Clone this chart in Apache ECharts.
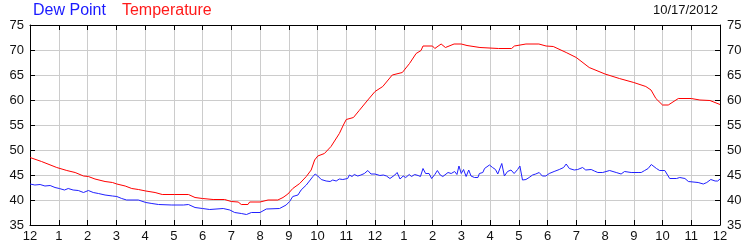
<!DOCTYPE html>
<html>
<head>
<meta charset="utf-8">
<script src="https://cdn.jsdelivr.net/npm/echarts@6/dist/echarts.min.js"></script>
<style>
html,body{margin:0;padding:0;background:#fff;}
#c{width:750px;height:250px;}
</style>
</head>
<body>
<div id="c"></div>
<script>
// Sampling times in hours after midnight, and readings
const tempHours = [0,0.4,0.93,1.28,1.57,1.86,2.03,2.26,2.61,2.87,3.02,3.31,3.54,3.77,4.03,4.35,4.6,5.02,5.51,5.74,6.0,6.37,6.77,7.0,7.24,7.35,7.58,7.64,8.0,8.28,8.62,8.8,8.97,9.14,9.38,9.61,9.78,9.9,10.01,10.24,10.47,10.76,10.9,11.0,11.25,11.45,11.75,12.0,12.27,12.6,12.95,13.2,13.43,13.6,13.67,14.0,14.08,14.3,14.45,14.75,15.0,15.2,15.65,16.3,16.75,16.85,17.25,17.7,17.95,18.2,18.65,19.0,19.45,20.0,20.5,21.0,21.42,21.6,21.77,22.0,22.2,22.55,23.0,23.3,23.65,24.0];
const tempValues = [48.5,47.7,46.5,45.9,45.5,44.8,44.7,44.2,43.7,43.5,43.2,42.8,42.3,42.1,41.8,41.5,41.1,41.1,41.1,40.5,40.3,40.1,40.1,39.7,39.6,39.1,39.1,39.6,39.6,40.0,40.0,40.5,41.2,42.3,43.3,44.7,46.0,48.0,48.8,49.3,50.7,53.3,55.0,56.1,56.5,57.9,60.0,61.7,62.7,65.0,65.5,67.3,69.3,69.9,70.8,70.8,70.3,71.2,70.5,71.2,71.2,70.9,70.5,70.3,70.3,70.8,71.2,71.2,70.8,70.7,69.5,68.5,66.5,65.2,64.3,63.5,62.7,62.0,60.3,59.0,59.0,60.3,60.3,60.0,59.9,59.1];

const dewHours = [0,0.17,0.35,0.52,0.7,0.87,1.02,1.2,1.33,1.5,1.68,1.86,2.03,2.2,2.38,2.61,2.87,3.02,3.19,3.36,3.77,4.03,4.24,4.47,4.93,5.34,5.51,5.74,6.0,6.25,6.72,6.95,7.12,7.35,7.53,7.7,8.0,8.22,8.68,8.91,9.03,9.14,9.32,9.43,9.61,9.72,9.84,9.92,10.01,10.13,10.3,10.44,10.53,10.65,10.76,10.88,11.05,11.11,11.2,11.28,11.4,11.51,11.63,11.75,11.86,12.0,12.17,12.29,12.4,12.52,12.69,12.77,12.87,12.98,13.07,13.19,13.27,13.38,13.5,13.58,13.67,13.76,13.88,13.97,14.08,14.17,14.27,14.36,14.54,14.65,14.77,14.85,14.92,15.0,15.08,15.17,15.26,15.34,15.46,15.58,15.63,15.75,15.81,15.98,16.09,16.19,16.27,16.41,16.5,16.61,16.73,16.84,16.96,17.04,17.13,17.25,17.36,17.48,17.59,17.71,17.82,17.94,18.06,18.23,18.41,18.56,18.65,18.76,18.93,19.05,19.22,19.33,19.52,19.63,19.75,19.81,19.92,20.16,20.39,20.56,20.68,20.91,21.15,21.26,21.38,21.5,21.61,21.79,21.9,22.08,22.25,22.49,22.6,22.78,22.9,23.24,23.42,23.54,23.68,23.83,23.92,24.0];
const dewValues = [43.2,43.0,43.1,42.8,42.9,42.5,42.3,42.0,42.3,42.0,41.9,41.5,41.9,41.5,41.3,41.0,40.8,40.7,40.3,40.0,40.0,39.5,39.3,39.1,39.0,39.0,39.1,38.5,38.3,38.1,38.3,38.0,37.5,37.3,37.1,37.5,37.5,38.2,38.3,39.0,39.7,40.7,41.0,42.0,43.0,43.8,44.7,45.2,44.8,44.1,43.8,43.7,44.0,43.8,44.2,44.1,44.3,45.0,44.7,45.1,44.8,45.0,45.3,45.9,45.2,45.2,44.9,45.0,44.8,44.3,45.0,45.5,44.2,44.8,44.5,45.1,44.7,45.1,44.9,44.7,46.3,45.3,45.3,44.3,45.1,45.9,45.0,44.7,45.5,45.3,45.7,45.1,46.8,45.3,46.1,44.7,46.0,44.8,44.5,44.5,45.3,45.5,46.3,47.0,46.5,46.1,45.2,47.3,44.8,45.7,46.0,45.3,46.1,46.8,44.0,44.1,44.5,45.0,45.2,45.5,44.8,44.8,45.3,45.7,46.1,46.5,47.2,46.3,46.0,46.1,46.5,46.0,46.1,45.8,45.5,45.9,45.5,45.9,45.5,45.2,45.7,45.5,45.5,45.5,45.9,46.3,47.1,46.3,45.9,45.9,44.3,44.3,44.5,44.3,43.7,43.5,43.2,43.5,44.1,43.8,43.8,44.2];

const hourLabels = ['12','1','2','3','4','5','6','7','8','9','10','11','12','1','2','3','4','5','6','7','8','9','10','11','12'];
const seriesNames = ['Dew Point','Temperature'];
const dateText = '10/17/2012';

const FONT = '"Liberation Sans", Arial, sans-serif';
const tempData = tempHours.map((h,i)=>[h,tempValues[i]]);
const dewData = dewHours.map((h,i)=>[h,dewValues[i]]);

const chart = echarts.init(document.getElementById('c'), null, {renderer:'canvas'});
const axisLine = {show:true, onZero:false, lineStyle:{color:'#000', width:1}};
const axisTick = {show:true, inside:true, length:5, lineStyle:{color:'#000', width:1}};
const label = {color:'#111', fontSize:13, fontFamily:FONT};

chart.setOption({
  animation:false,
  backgroundColor:'#fff',
  textStyle:{fontFamily:FONT},
  title:{text:dateText, right:32, top:4, padding:0,
    textStyle:{fontSize:13, fontWeight:'normal', color:'#111', fontFamily:FONT}},
  legend:{
    left:28, top:3, padding:0, icon:'none', itemWidth:0, itemHeight:0, itemGap:11,
    selectedMode:false,
    data:[
      {name:seriesNames[0], textStyle:{color:'#1a1aff', fontSize:16, fontFamily:FONT}},
      {name:seriesNames[1], textStyle:{color:'#ff1a1a', fontSize:16, fontFamily:FONT}}
    ]
  },
  grid:{left:30, right:30, top:25, bottom:25, containLabel:false},
  xAxis:[
    {type:'value', position:'bottom', min:0, max:24, interval:1,
     axisLine:axisLine, axisTick:axisTick,
     axisLabel:Object.assign({margin:5, formatter:v=>hourLabels[Math.round(v)]}, label),
     splitLine:{show:true, lineStyle:{color:'#cccccc', width:1}}},
    {type:'value', position:'top', min:0, max:24, interval:1,
     axisLine:axisLine, axisTick:axisTick, axisLabel:{show:false}, splitLine:{show:false}}
  ],
  yAxis:[
    {type:'value', position:'left', min:35, max:75, interval:5,
     axisLine:axisLine, axisTick:axisTick,
     axisLabel:Object.assign({margin:6}, label),
     splitLine:{show:true, lineStyle:{color:'#cccccc', width:1}}},
    {type:'value', position:'right', min:35, max:75, interval:5,
     axisLine:axisLine, axisTick:axisTick,
     axisLabel:Object.assign({margin:7}, label),
     splitLine:{show:false}}
  ],
  series:[
    {name:seriesNames[0], type:'line', data:dewData, showSymbol:false, symbol:'none',
     lineStyle:{color:'#2020ff', width:1}, itemStyle:{color:'#2020ff'}, z:3},
    {name:seriesNames[1], type:'line', data:tempData, showSymbol:false, symbol:'none',
     lineStyle:{color:'#ff0000', width:1}, itemStyle:{color:'#ff0000'}, z:4}
  ]
});
</script>
</body>
</html>
